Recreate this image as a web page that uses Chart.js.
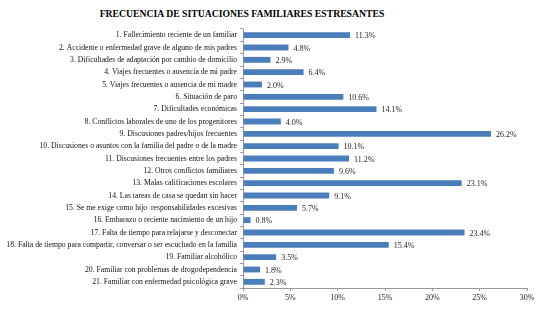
<!DOCTYPE html>
<html lang="es">
<head>
  <meta charset="UTF-8">
  <title>Frecuencia de situaciones familiares estresantes</title>
  <script src="https://cdn.jsdelivr.net/npm/chart.js"></script>
  <style>
    html, body { margin: 0; padding: 0; background: #fff; }
    .wrap { position: relative; width: 546px; height: 310px; }
    .title {
      position: absolute; top: 8px; left: 0; width: 484px;
      text-align: center; font: bold 9.7px "Liberation Serif", serif; color: #000;
    }
    canvas { position: absolute; top: 0; left: 0; }
  </style>
</head>
<body>
  <div class="wrap">
    <div class="title">FRECUENCIA DE SITUACIONES FAMILIARES ESTRESANTES</div>
    <canvas id="chart" width="546" height="310"></canvas>
  </div>

  <script>
    const situaciones = [
      '1. Fallecimiento reciente de un familiar',
      '2. Accidente o enfermedad grave de alguno de mis padres',
      '3. Dificultades de adaptación por cambio de domicilio',
      '4. Viajes frecuentes o ausencia de mi padre',
      '5. Viajes frecuentes o ausencia de mi madre',
      '6. Situación de paro',
      '7. Dificultades económicas',
      '8. Conflictos laborales de uno de los progenitores',
      '9. Discusiones padres/hijos frecuentes',
      '10. Discusiones o asuntos con la familia del padre o de la madre',
      '11. Discusiones frecuentes entre los padres',
      '12. Otros conflictos familiares',
      '13. Malas calificaciones escolares',
      '14. Las tareas de casa se quedan sin hacer',
      '15. Se me exige como hijo  responsabilidades excesivas',
      '16. Embarazo o reciente nacimiento de un hijo',
      '17. Falta de tiempo para relajarse y desconectar',
      '18. Falta de tiempo para compartir, conversar o ser escuchado en la familia',
      '19. Familiar alcohólico',
      '20. Familiar con problemas de drogodependencia',
      '21. Familiar con enfermedad psicológica grave'
    ];
    const porcentajes = [11.3, 4.8, 2.9, 6.4, 2.0, 10.6, 14.1, 4.0, 26.2, 10.1, 11.2,
                         9.6, 23.1, 9.1, 5.7, 0.8, 23.4, 15.4, 3.5, 1.8, 2.3];
    const ejeMax = 30;
    const ejePaso = 5;

    const serif = '"Liberation Serif", "Times New Roman", serif';

    // etiquetas de valor al final de cada barra
    const valueLabels = {
      id: 'valueLabels',
      afterDatasetsDraw(chart) {
        const ctx = chart.ctx;
        const meta = chart.getDatasetMeta(0);
        ctx.save();
        ctx.font = '8px ' + serif;
        ctx.fillStyle = '#222';
        ctx.textAlign = 'left';
        ctx.textBaseline = 'middle';
        meta.data.forEach((bar, i) => {
          ctx.fillText(porcentajes[i].toFixed(1) + '%', bar.x + 5, bar.y + 1);
        });
        ctx.restore();
      }
    };

    new Chart(document.getElementById('chart'), {
      type: 'bar',
      data: {
        labels: situaciones,
        datasets: [{
          data: porcentajes,
          backgroundColor: '#4a7ebb',
          barPercentage: 0.5,
          categoryPercentage: 0.95
        }]
      },
      options: {
        indexAxis: 'y',
        responsive: false,
        animation: false,
        layout: { padding: { top: 29, right: 19, left: 0, bottom: 0 } },
        plugins: {
          legend: { display: false },
          tooltip: { enabled: false }
        },
        scales: {
          y: {
            afterFit(scale) { scale.width = 243; },
            grid: {
              offset: true,
              drawOnChartArea: false,
              tickLength: 3,
              color: '#999'
            },
            border: { color: '#999' },
            ticks: {
              padding: 3,
              autoSkip: false,
              color: '#111',
              font: { family: serif, size: 7.7 }
            }
          },
          x: {
            min: 0,
            max: ejeMax,
            afterFit(scale) { scale.height = 22; },
            grid: {
              drawOnChartArea: false,
              tickLength: 3,
              color: '#999'
            },
            border: { color: '#999' },
            ticks: {
              stepSize: ejePaso,
              padding: 2,
              color: '#222',
              font: { family: serif, size: 8 },
              callback: v => v + '%'
            }
          }
        }
      },
      plugins: [valueLabels]
    });
  </script>
</body>
</html>
